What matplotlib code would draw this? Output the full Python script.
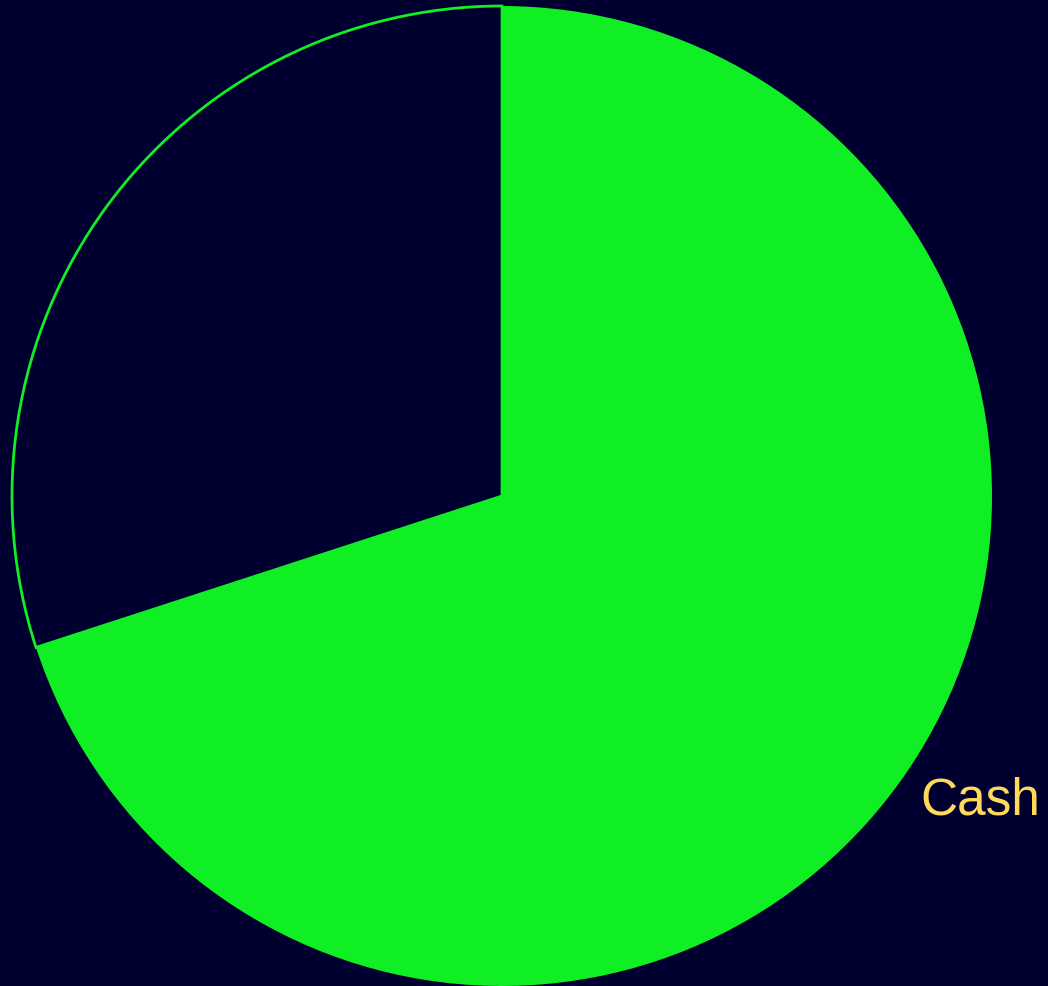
import matplotlib.pyplot as plt

# shares of the portfolio
labels = ["Cash", ""]
values = [70, 30]

bg = "#000030"
green = "#10EE24"

fig = plt.figure(figsize=(10.48, 9.87), dpi=100, facecolor=bg)
ax = fig.add_axes([0, 0, 1, 1])
ax.set_facecolor(bg)

wedges, texts = ax.pie(
    values,
    labels=labels,
    colors=[green, bg],
    startangle=90,
    counterclock=False,
    center=(502, 490),
    radius=490,
    labeldistance=1.055,
    wedgeprops=dict(linewidth=0),
    textprops=dict(color="#FFD95A", fontsize=37, family="Liberation Sans"),
)
# thin green rim around the empty part
wedges[1].set_edgecolor(green)
wedges[1].set_linewidth(2)

ax.set_xlim(0, 1048)
ax.set_ylim(0, 987)
ax.set_aspect("equal")
ax.axis("off")

fig.savefig("out.png", dpi=100, facecolor=bg)
